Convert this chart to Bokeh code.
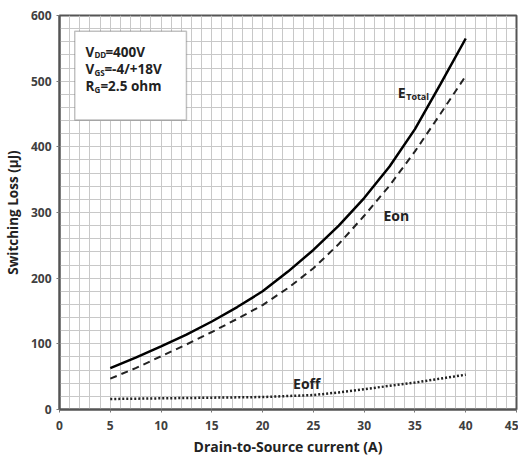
from bokeh.plotting import figure
from bokeh.models import SingleIntervalTicker, BoxAnnotation, Label, Range1d, Grid
from bokeh.embed import file_html
from bokeh.resources import INLINE

# Data
current = [5, 7.5, 10, 12.5, 15, 17.5, 20, 22.5, 25, 27.5, 30, 32.5, 35, 37.5, 40]
e_total = [63, 79, 96, 114, 134, 156, 180, 210, 243, 280, 322, 370, 427, 495, 565]
e_on = [47, 63, 81, 99, 118, 138, 159, 185, 215, 252, 295, 341, 393, 450, 508]
current_off = [5, 10, 15, 20, 25, 27.5, 30, 35, 40]
e_off = [16, 17, 18, 19, 22, 26, 31, 41, 53]

FONT = "Open Sans"
DARK = "#404040"

p = figure(width=518, height=458, output_backend="svg", toolbar_location=None,
           x_range=Range1d(0, 45), y_range=Range1d(0, 600),
           min_border_left=52, min_border_right=2, min_border_top=15, min_border_bottom=40)
p.background_fill_color = "white"
p.border_fill_color = "white"
p.outline_line_color = "#555555"
p.outline_line_width = 2
p.xgrid.visible = False
p.ygrid.visible = False

# Grid
p.add_layout(Grid(dimension=0, ticker=SingleIntervalTicker(interval=1),
                  grid_line_color="#c8c8c8", grid_line_width=1))
p.add_layout(Grid(dimension=1, ticker=SingleIntervalTicker(interval=20),
                  grid_line_color="#c8c8c8", grid_line_width=1))

# Axes
p.xaxis.ticker = SingleIntervalTicker(interval=5, num_minor_ticks=0)
p.yaxis.ticker = SingleIntervalTicker(interval=100, num_minor_ticks=0)
for ax in (p.xaxis[0], p.yaxis[0]):
    ax.axis_line_color = "#555555"
    ax.axis_line_width = 2
    ax.major_tick_line_color = "#777777"
    ax.major_tick_in = 0
    ax.major_tick_out = 3
    ax.minor_tick_line_color = None
    ax.major_label_text_font = FONT
    ax.major_label_text_font_style = "bold"
    ax.major_label_text_font_size = "12px"
    ax.major_label_text_color = DARK
    ax.axis_label_text_font = FONT
    ax.axis_label_text_font_style = "bold"
    ax.axis_label_text_color = "#222222"
p.xaxis.axis_label = "Drain-to-Source current (A)"
p.yaxis.axis_label = "Switching Loss (µJ)"
p.xaxis.axis_label_text_font_size = "14px"
p.yaxis.axis_label_text_font_size = "13.5px"
p.xaxis.major_label_standoff = 8
p.xaxis.axis_label_standoff = 4
p.yaxis.major_label_standoff = 5
p.yaxis.axis_label_standoff = 6

# Curves
p.line(current, e_total, line_color="black", line_width=2.5)
p.line(current, e_on, line_color="#222222", line_width=2, line_dash="7 5")
p.line(current_off, e_off, line_color="#222222", line_width=2.5, line_dash="2 2")

# Curve labels
def lab(x, y, text, size="14px", dx=0, dy=0):
    p.add_layout(Label(x=x, y=y, text=text, x_offset=dx, y_offset=dy,
                       text_font=FONT, text_font_style="bold",
                       text_font_size=size, text_color="#222222",
                       text_baseline="alphabetic", text_align="left"))

lab(33.3, 482, "E")
lab(33.3, 482, "Total", size="9px", dx=8.5, dy=-4)
lab(31.9, 295, "Eon")
lab(23.0, 40, "Eoff")

# Conditions box
p.add_layout(BoxAnnotation(left=1.5, right=12.5, bottom=441, top=576,
                           fill_color="white", fill_alpha=1,
                           line_color="#333333", line_width=1.5))
xb = 2.55
lab(xb, 545, "V", size="13.5px")
lab(xb, 545, "DD", size="8px", dx=9, dy=-3)
lab(xb, 545, "=400V", size="13.5px", dx=20)
lab(xb, 518, "V", size="13.5px")
lab(xb, 518, "GS", size="8px", dx=9, dy=-3)
lab(xb, 518, "=-4/+18V", size="13.5px", dx=19)
lab(xb, 492, "R", size="13.5px")
lab(xb, 492, "G", size="8px", dx=9, dy=-3)
lab(xb, 492, "=2.5 ohm", size="13.5px", dx=15)

open("out.html", "w").write(file_html(p, INLINE))
